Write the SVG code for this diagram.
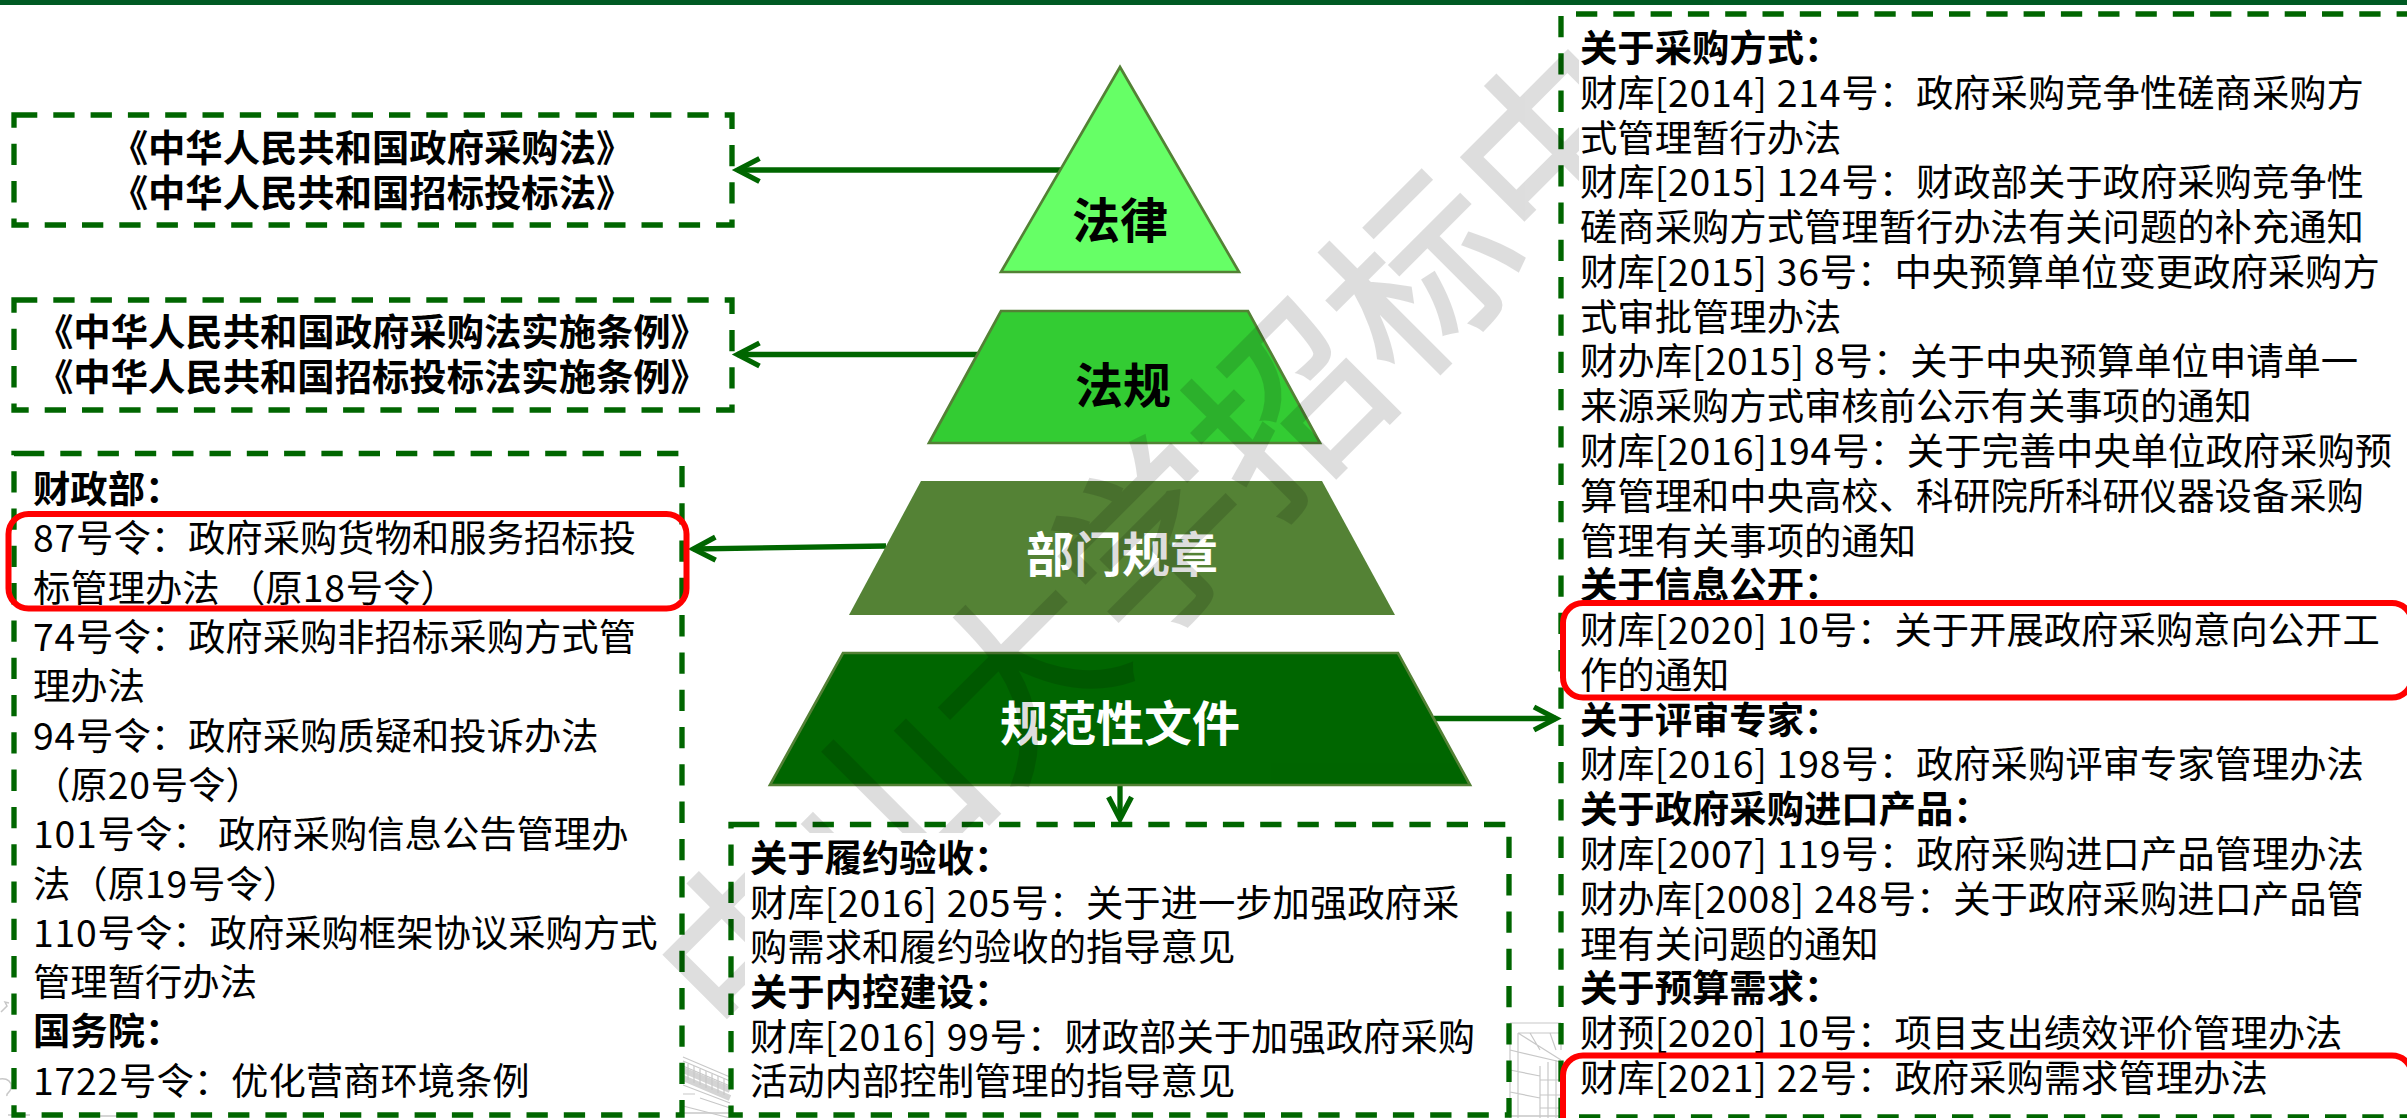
<svg xmlns="http://www.w3.org/2000/svg" width="2407" height="1118" viewBox="0 0 2407 1118">
<style>
text{font-family:"Noto Sans CJK SC","Liberation Sans",sans-serif;fill:#000}
.t{font-size:37.33px}
.n{letter-spacing:.8px}
.b{font-size:37.33px;font-weight:700}
.c{font-size:37.33px;font-weight:700;text-anchor:middle}
.p{font-size:48px;font-weight:700;text-anchor:middle}
.w{fill:#fff}
.dash{fill:none;stroke:#006600;stroke-width:5.33;stroke-dasharray:21.3 16}
.red{fill:none;stroke:#ff0000;stroke-width:6}
.lvl{stroke:#538135;stroke-width:2.7}
.arr{stroke:#006600;stroke-width:5.3;fill:none;marker-end:url(#open)}
.sk{fill:none;stroke:#c8c8c8;stroke-width:1.2}
.wm{font-size:186px;letter-spacing:2px;fill:#000;stroke:#000;stroke-width:3}
</style>
<defs>
<marker id="open" markerUnits="userSpaceOnUse" markerWidth="36" markerHeight="34" viewBox="0 0 36 34" refX="27" refY="17" orient="auto">
<path d="M5 5.5L27 17L5 28.5" fill="none" stroke="#006600" stroke-width="5.3"/>
</marker>
<clipPath id="wmclip"><path clip-rule="evenodd" d="M0 0H2407V1118H0ZM745 833H1505V1118H745ZM1579 20H2407V1118H1579Z"/></clipPath>
</defs>
<rect id="page" width="2407" height="1118" fill="#fff"/>
<rect id="top-bar" width="2407" height="5" fill="#005a23"/>
<g id="campus-sketch" class="sk">
<path d="M683 1057L730 1077M683 1061L730 1081M683 1066L730 1086M683 1085L730 1103M683 1106L730 1118M683 1094H695M700 1098L730 1108"/>
<path d="M683 1070L730 1090M683 1078L730 1098" stroke-width="6" stroke="#d4d4d4"/>
<path d="M688 1064V1080M694 1066V1083M700 1069V1085M706 1071V1088M712 1074V1090M718 1076V1093M724 1079V1095"/>
<path d="M1510 1023H1561M1518 1033H1561V1050M1518 1033L1561 1060M1530 1033L1540 1050M1550 1033L1556 1050M1510 1050L1561 1062M1510 1023V1118M1518 1033V1118M1510 1070L1540 1076M1510 1092L1540 1098M1540 1066V1118M1548 1062V1118M1556 1060V1118M1540 1080H1561M1540 1095H1561M1540 1108H1561"/>
<path d="M1 1012L7 1006L5 1002L9 1003M0 1079C8 1078 12 1082 11 1088C10 1094 6 1092 7 1096M8 1115H30M680 1113H731M1510 1116H1561M100 1116H130" stroke-width="1.5"/>
</g>
<g id="connectors">
<line class="arr" x1="1062" y1="170" x2="737.5" y2="170"/>
<line class="arr" x1="978" y1="354.5" x2="737.5" y2="354.5"/>
<line class="arr" x1="886" y1="546" x2="693.5" y2="549"/>
<line class="arr" x1="1434" y1="718.5" x2="1556" y2="718.5"/>
<line class="arr" x1="1120" y1="785" x2="1120" y2="819"/>
</g>
<g id="node-law">
<polygon class="lvl" points="1120,67 1239,272 1001,272" fill="#66ff66"/>
<text class="p" x="1120" y="238">法律</text>
</g>
<g id="node-regulation">
<polygon class="lvl" points="1001,311 1248,311 1320,443 929,443" fill="#33cc33"/>
<text class="p" x="1123" y="403">法规</text>
</g>
<g id="node-rule">
<polygon points="921,481 1322,481 1395,615 849,615" fill="#548235"/>
<text class="p w" x="1122" y="572">部门规章</text>
</g>
<g id="node-normative">
<polygon class="lvl" points="843,653 1398,653 1470,785 770,785" fill="#006600"/>
<text class="p w" x="1120" y="741">规范性文件</text>
</g>
<g id="box-laws">
<path class="dash" d="M16 115H732V225H14V115H16"/>
<text class="c" x="372" y="162">《中华人民共和国政府采购法》</text>
<text class="c" x="372" y="207">《中华人民共和国招标投标法》</text>
</g>
<g id="box-regulations">
<path class="dash" d="M16 300H732V410H14V300H16"/>
<text class="c" x="372" y="346">《中华人民共和国政府采购法实施条例》</text>
<text class="c" x="372" y="391">《中华人民共和国招标投标法实施条例》</text>
</g>
<g id="box-rules">
<path class="dash" d="M23 453.500H682V1115H14V453.500H23"/>
<text class="b" x="33" y="503">财政部：</text>
<text class="t" x="33" y="552"><tspan class="n">87</tspan>号令：政府采购货物和服务招标投</text>
<text class="t" x="33" y="602">标管理办法 （原<tspan class="n">18</tspan>号令）</text>
<text class="t" x="33" y="651"><tspan class="n">74</tspan>号令：政府采购非招标采购方式管</text>
<text class="t" x="33" y="700">理办法</text>
<text class="t" x="33" y="750"><tspan class="n">94</tspan>号令：政府采购质疑和投诉办法</text>
<text class="t" x="33" y="799">（原<tspan class="n">20</tspan>号令）</text>
<text class="t" x="33" y="848"><tspan class="n">101</tspan>号令： 政府采购信息公告管理办</text>
<text class="t" x="33" y="898">法（原<tspan class="n">19</tspan>号令）</text>
<text class="t" x="33" y="947"><tspan class="n">110</tspan>号令：政府采购框架协议采购方式</text>
<text class="t" x="33" y="996">管理暂行办法</text>
<text class="b" x="33" y="1045">国务院：</text>
<text class="t" x="33" y="1095"><tspan class="n">1722</tspan>号令：优化营商环境条例</text>
<rect class="red" x="8.500" y="514" width="678" height="94.500" rx="20"/>
</g>
<g id="box-acceptance">
<path class="dash" d="M738 824.500H1509V1115H731V824.500H738"/>
<text class="b" x="750" y="872">关于履约验收：</text>
<text class="t" x="750" y="917">财库<tspan class="n">[2016] 205</tspan>号：关于进一步加强政府采</text>
<text class="t" x="750" y="961">购需求和履约验收的指导意见</text>
<text class="b" x="750" y="1006">关于内控建设：</text>
<text class="t" x="750" y="1051">财库<tspan class="n">[2016] 99</tspan>号：财政部关于加强政府采购</text>
<text class="t" x="750" y="1095">活动内部控制管理的指导意见</text>
</g>
<g id="box-normative">
<path class="dash" d="M1576 14H2407"/>
<path class="dash" d="M1561 16V1117H2407"/>
<text class="b" x="1580" y="62">关于采购方式：</text>
<text class="t" x="1580" y="107">财库<tspan class="n">[2014] 214</tspan>号：政府采购竞争性磋商采购方</text>
<text class="t" x="1580" y="152">式管理暂行办法</text>
<text class="t" x="1580" y="196">财库<tspan class="n">[2015] 124</tspan>号：财政部关于政府采购竞争性</text>
<text class="t" x="1580" y="241">磋商采购方式管理暂行办法有关问题的补充通知</text>
<text class="t" x="1580" y="286">财库<tspan class="n">[2015] 36</tspan>号：中央预算单位变更政府采购方</text>
<text class="t" x="1580" y="331">式审批管理办法</text>
<text class="t" x="1580" y="375">财办库<tspan class="n">[2015] 8</tspan>号：关于中央预算单位申请单一</text>
<text class="t" x="1580" y="420">来源采购方式审核前公示有关事项的通知</text>
<text class="t" x="1580" y="465">财库<tspan class="n">[2016]194</tspan>号：关于完善中央单位政府采购预</text>
<text class="t" x="1580" y="510">算管理和中央高校、科研院所科研仪器设备采购</text>
<text class="t" x="1580" y="555">管理有关事项的通知</text>
<text class="b" x="1580" y="599">关于信息公开：</text>
<text class="t" x="1580" y="644">财库<tspan class="n">[2020] 10</tspan>号：关于开展政府采购意向公开工</text>
<text class="t" x="1580" y="689">作的通知</text>
<text class="b" x="1580" y="734">关于评审专家：</text>
<text class="t" x="1580" y="778">财库<tspan class="n">[2016] 198</tspan>号：政府采购评审专家管理办法</text>
<text class="b" x="1580" y="823">关于政府采购进口产品：</text>
<text class="t" x="1580" y="868">财库<tspan class="n">[2007] 119</tspan>号：政府采购进口产品管理办法</text>
<text class="t" x="1580" y="913">财办库<tspan class="n">[2008] 248</tspan>号：关于政府采购进口产品管</text>
<text class="t" x="1580" y="958">理有关问题的通知</text>
<text class="b" x="1580" y="1002">关于预算需求：</text>
<text class="t" x="1580" y="1047">财预<tspan class="n">[2020] 10</tspan>号：项目支出绩效评价管理办法</text>
<text class="t" x="1580" y="1092">财库<tspan class="n">[2021] 22</tspan>号：政府采购需求管理办法</text>
<rect class="red" x="1563" y="603" width="849" height="94.500" rx="20"/>
<rect class="red" x="1563" y="1055.500" width="849" height="90" rx="20"/>
</g>
<g id="watermark" clip-path="url(#wmclip)" opacity=".13">
<text class="wm" x="662" y="1009" transform="rotate(-45 755 939)">中山大学招标中</text>
</g>
</svg>
